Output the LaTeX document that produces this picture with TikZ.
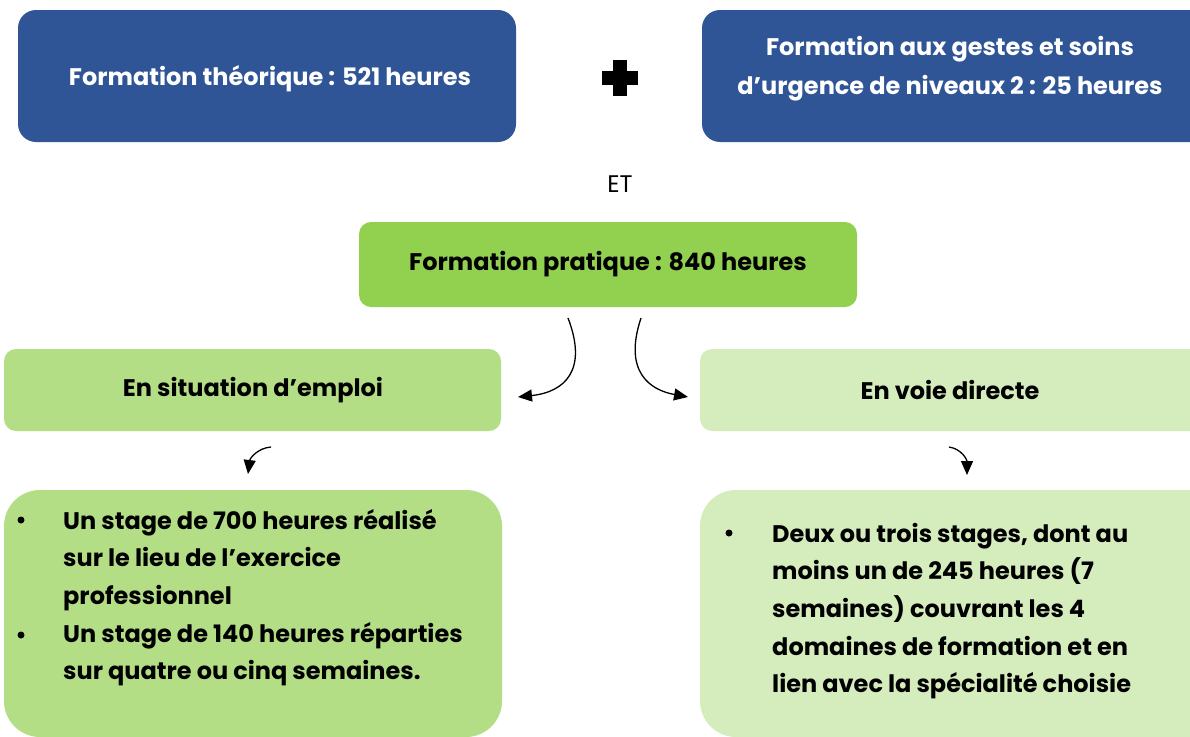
\documentclass[tikz,border=0pt]{standalone}
\usepackage{fontspec}
\setmainfont{Poppins}
\usetikzlibrary{arrows.meta}
\definecolor{darkblue}{HTML}{2F5597}
\definecolor{midgreen}{HTML}{92D050}
\definecolor{lightgreen}{HTML}{B4DE86}
\definecolor{palegreen}{HTML}{D5EDBD}
\tikzset{
  title/.style={font=\fontsize{24}{39}\selectfont\bfseries, align=center},
  item/.style={font=\fontsize{24}{37.7}\selectfont\bfseries, align=left, anchor=base west, inner sep=0pt},
  bulletdot/.style={circle, fill=black, inner sep=0pt, minimum size=7pt},
  curvy/.style={line width=1.3pt, -{Triangle[length=14pt,width=12pt]}}
}
\begin{document}
\begin{tikzpicture}[x=1pt,y=-1pt]
\useasboundingbox (0,0) rectangle (1190,736);
% top boxes
\fill[darkblue, rounded corners=18pt] (18,10) rectangle (516,142);
\node[title, text=white] (theo) at (270,79) {Formation théorique : 521 heures};
\fill[darkblue, rounded corners=18pt] (702,10) rectangle (1215,142);
\node[title, text=white] (urg) at (950,69) {Formation aux gestes et soins\\d’urgence de niveaux 2 : 25 heures};
% plus sign
\fill[black] (613,60) rectangle (627,96);
\fill[black] (602,71) rectangle (638,85);
\node[font=\fontsize{24}{24}\selectfont] (et) at (620,184) {ET};
% pratique
\fill[midgreen, rounded corners=12pt] (359,222) rectangle (857,307);
\node[title] (prat) at (608,264) {Formation pratique : 840 heures};
% second level
\fill[lightgreen, rounded corners=12pt] (4,349) rectangle (501,431);
\node[title] (emploi) at (253,390) {En situation d’emploi};
\fill[palegreen, rounded corners=12pt] (700,349) rectangle (1215,431);
\node[title] (directe) at (950,390) {En voie directe};
% bottom boxes
\fill[lightgreen, rounded corners=36pt] (4,490) rectangle (502,737);
\fill[palegreen, rounded corners=36pt] (700,490) rectangle (1225,737);
\node[bulletdot] (b1) at (21,520) {};
\node[item] (i1) at (63,604.4) {Un stage de 700 heures réalisé\\sur le lieu de l’exercice\\professionnel};
\node[bulletdot] (b2) at (21,635) {};
\node[item] (i2) at (63,679.7) {Un stage de 140 heures réparties\\sur quatre ou cinq semaines.};
\node[bulletdot] (b3) at (729,533) {};
\node[item] (i3) at (772,692.8) {Deux ou trois stages, dont au\\moins un de 245 heures (7\\semaines) couvrant les 4\\domaines de formation et en\\lien avec la spécialité choisie};
% arrows
\coordinate (s1) at (568,318);
\coordinate (e1) at (518,397);
\coordinate (s2) at (641,318);
\coordinate (e2) at (688,397);
\coordinate (s3) at (271,447);
\coordinate (e3) at (248,474);
\coordinate (s4) at (949,447);
\coordinate (e4) at (967,475);
\draw[curvy] (s1) .. controls (588,370) and (565,392) .. (e1);
\draw[curvy] (s2) .. controls (623,372) and (650,390) .. (e2);
\draw[curvy] (s3) .. controls (258,448) and (250,458) .. (e3);
\draw[curvy] (s4) .. controls (962,449) and (967,460) .. (e4);
\end{tikzpicture}
\end{document}
